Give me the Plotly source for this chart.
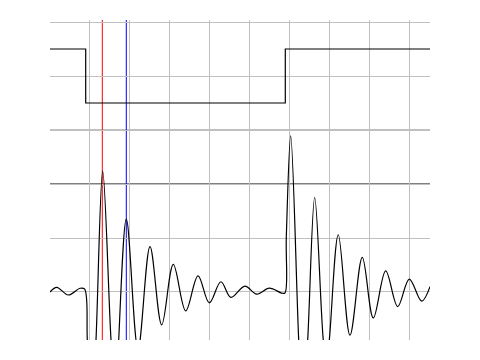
import plotly.graph_objects as go

# ---- data (x in horizontal divisions, y in vertical divisions) ----
x_range = [0.0175, 9.5175]
y_range = [-0.889, 5.037]

# digital (top) channel: step signal
step_x = [0.0175, 0.91, 5.90, 9.5175]
step_y = [4.5, 3.5, 4.5, 4.5]

# cursors
cursor_red_x = 1.325
cursor_blue_x = 1.925

# reference levels
panel_split_y = 3.0
level_y = 2.0

# analog (bottom) channel: ringing waveform
wave_x = [0.0175, 0.185, 0.475, 0.7675, 0.88, 0.95, 1.0425, 1.1675, 1.335, 1.5425,
          1.6425, 1.925, 2.2175, 2.5175, 2.81, 3.10, 3.41, 3.7175, 4.00, 4.29,
          4.54, 4.89, 5.185, 5.50, 5.81, 5.89, 5.925, 6.035, 6.235, 6.335,
          6.46, 6.635, 6.85, 6.93, 7.00, 7.225, 7.5175, 7.825, 8.10, 8.41,
          8.71, 9.00, 9.31, 9.5175]
wave_y = [0.00, 0.087, -0.056, 0.069, 0.056, -0.89, -2.74, -0.89, 2.24, -0.89,
          -1.93, 1.35, -1.06, 0.84, -0.61, 0.51, -0.35, 0.30, -0.20, 0.19,
          -0.10, 0.11, -0.04, 0.07, -0.02, -0.02, 1.02, 2.89, -0.89, -2.30,
          -0.89, 1.75, -0.89, -1.30, -0.89, 1.06, -0.80, 0.64, -0.48, 0.39,
          -0.27, 0.24, -0.17, 0.10]

fig = go.Figure()

fig.add_trace(go.Scatter(
    x=step_x, y=step_y, mode="lines", line=dict(color="black", width=1.2, shape="hv"),
    showlegend=False, hoverinfo="skip"))

fig.add_trace(go.Scatter(
    x=wave_x, y=wave_y, mode="lines",
    line=dict(color="black", width=1.2, shape="spline", smoothing=1.0),
    showlegend=False, hoverinfo="skip"))

shapes = [
    dict(type="line", xref="paper", x0=0, x1=1, yref="y", y0=panel_split_y, y1=panel_split_y,
         line=dict(color="#c0c0c0", width=2), layer="between"),
    dict(type="line", xref="paper", x0=0, x1=1, yref="y", y0=level_y, y1=level_y,
         line=dict(color="#808080", width=2), layer="between"),
    dict(type="line", xref="x", x0=cursor_red_x, x1=cursor_red_x, yref="paper", y0=0, y1=1,
         line=dict(color="#ff0000", width=1), layer="between"),
    dict(type="line", xref="x", x0=cursor_blue_x, x1=cursor_blue_x, yref="paper", y0=0, y1=1,
         line=dict(color="#0000ff", width=1), layer="between"),
]

fig.update_layout(
    width=480, height=360, autosize=False,
    margin=dict(l=50, r=50, t=20, b=20, pad=0),
    paper_bgcolor="white", plot_bgcolor="white",
    shapes=shapes,
    xaxis=dict(range=x_range, dtick=1, tick0=0, showgrid=True, gridcolor="#c0c0c0", gridwidth=1,
               showticklabels=False, ticks="", zeroline=False, showline=False, fixedrange=True),
    yaxis=dict(range=y_range, dtick=1, tick0=0, showgrid=True, gridcolor="#c0c0c0", gridwidth=1,
               showticklabels=False, ticks="", zeroline=False, showline=False, fixedrange=True),
)

fig.write_html("out.html", config={"displayModeBar": False})
